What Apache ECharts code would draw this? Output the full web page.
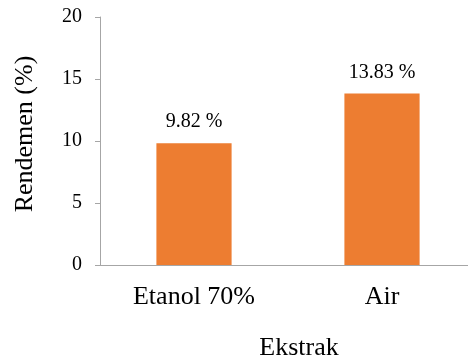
<!DOCTYPE html>
<html>
<head>
<meta charset="utf-8">
<script src="https://cdn.jsdelivr.net/npm/echarts@6/dist/echarts.min.js"></script>
<style>
  html, body { margin: 0; padding: 0; background: #fff; }
  #chart { width: 468px; height: 361px; }
</style>
</head>
<body>
<div id="chart"></div>
<script>
// Yield of extract by solvent
const categories = ['Etanol 70%', 'Air'];
const yieldValues = [9.82, 13.83];
const yTicks = { min: 0, max: 20, interval: 5 };

const serif = '"Liberation Serif", "Times New Roman", serif';
const axisGray = '#a6a6a6';

const chart = echarts.init(document.getElementById('chart'), null, { renderer: 'canvas' });
chart.setOption({
  animation: false,
  backgroundColor: '#ffffff',
  grid: {
    left: 100, top: 17, width: 376, height: 248,
    containLabel: false,
    outerBoundsMode: 'none'
  },
  xAxis: {
    type: 'category',
    data: categories,
    name: 'Ekstrak',
    nameLocation: 'middle',
    nameGap: 70,
    nameTextStyle: { fontFamily: serif, fontSize: 26, color: '#000', padding: [0, 0, 0, 22] },
    axisLine: { show: true, lineStyle: { color: axisGray, width: 1 } },
    axisTick: { show: false },
    axisLabel: { fontFamily: serif, fontSize: 26, color: '#000', margin: 19 },
    splitLine: { show: false }
  },
  yAxis: {
    type: 'value',
    min: yTicks.min,
    max: yTicks.max,
    interval: yTicks.interval,
    name: 'Rendemen (%)',
    nameLocation: 'middle',
    nameGap: 62,
    nameRotate: 90,
    nameTextStyle: { fontFamily: serif, fontSize: 26, color: '#000', padding: [0, 0, 0, 14] },
    axisLine: { show: true, lineStyle: { color: axisGray, width: 1 } },
    axisTick: { show: true, length: 5, lineStyle: { color: axisGray } },
    axisLabel: { fontFamily: serif, fontSize: 20, color: '#000', margin: 18 },
    splitLine: { show: false }
  },
  series: [{
    type: 'bar',
    data: yieldValues,
    barWidth: '40%',
    itemStyle: { color: '#ed7d31' },
    label: {
      show: true,
      position: 'top',
      distance: 11,
      fontFamily: serif,
      fontSize: 20,
      color: '#000',
      formatter: p => p.value.toFixed(2) + ' %'
    }
  }]
});
</script>
</body>
</html>
